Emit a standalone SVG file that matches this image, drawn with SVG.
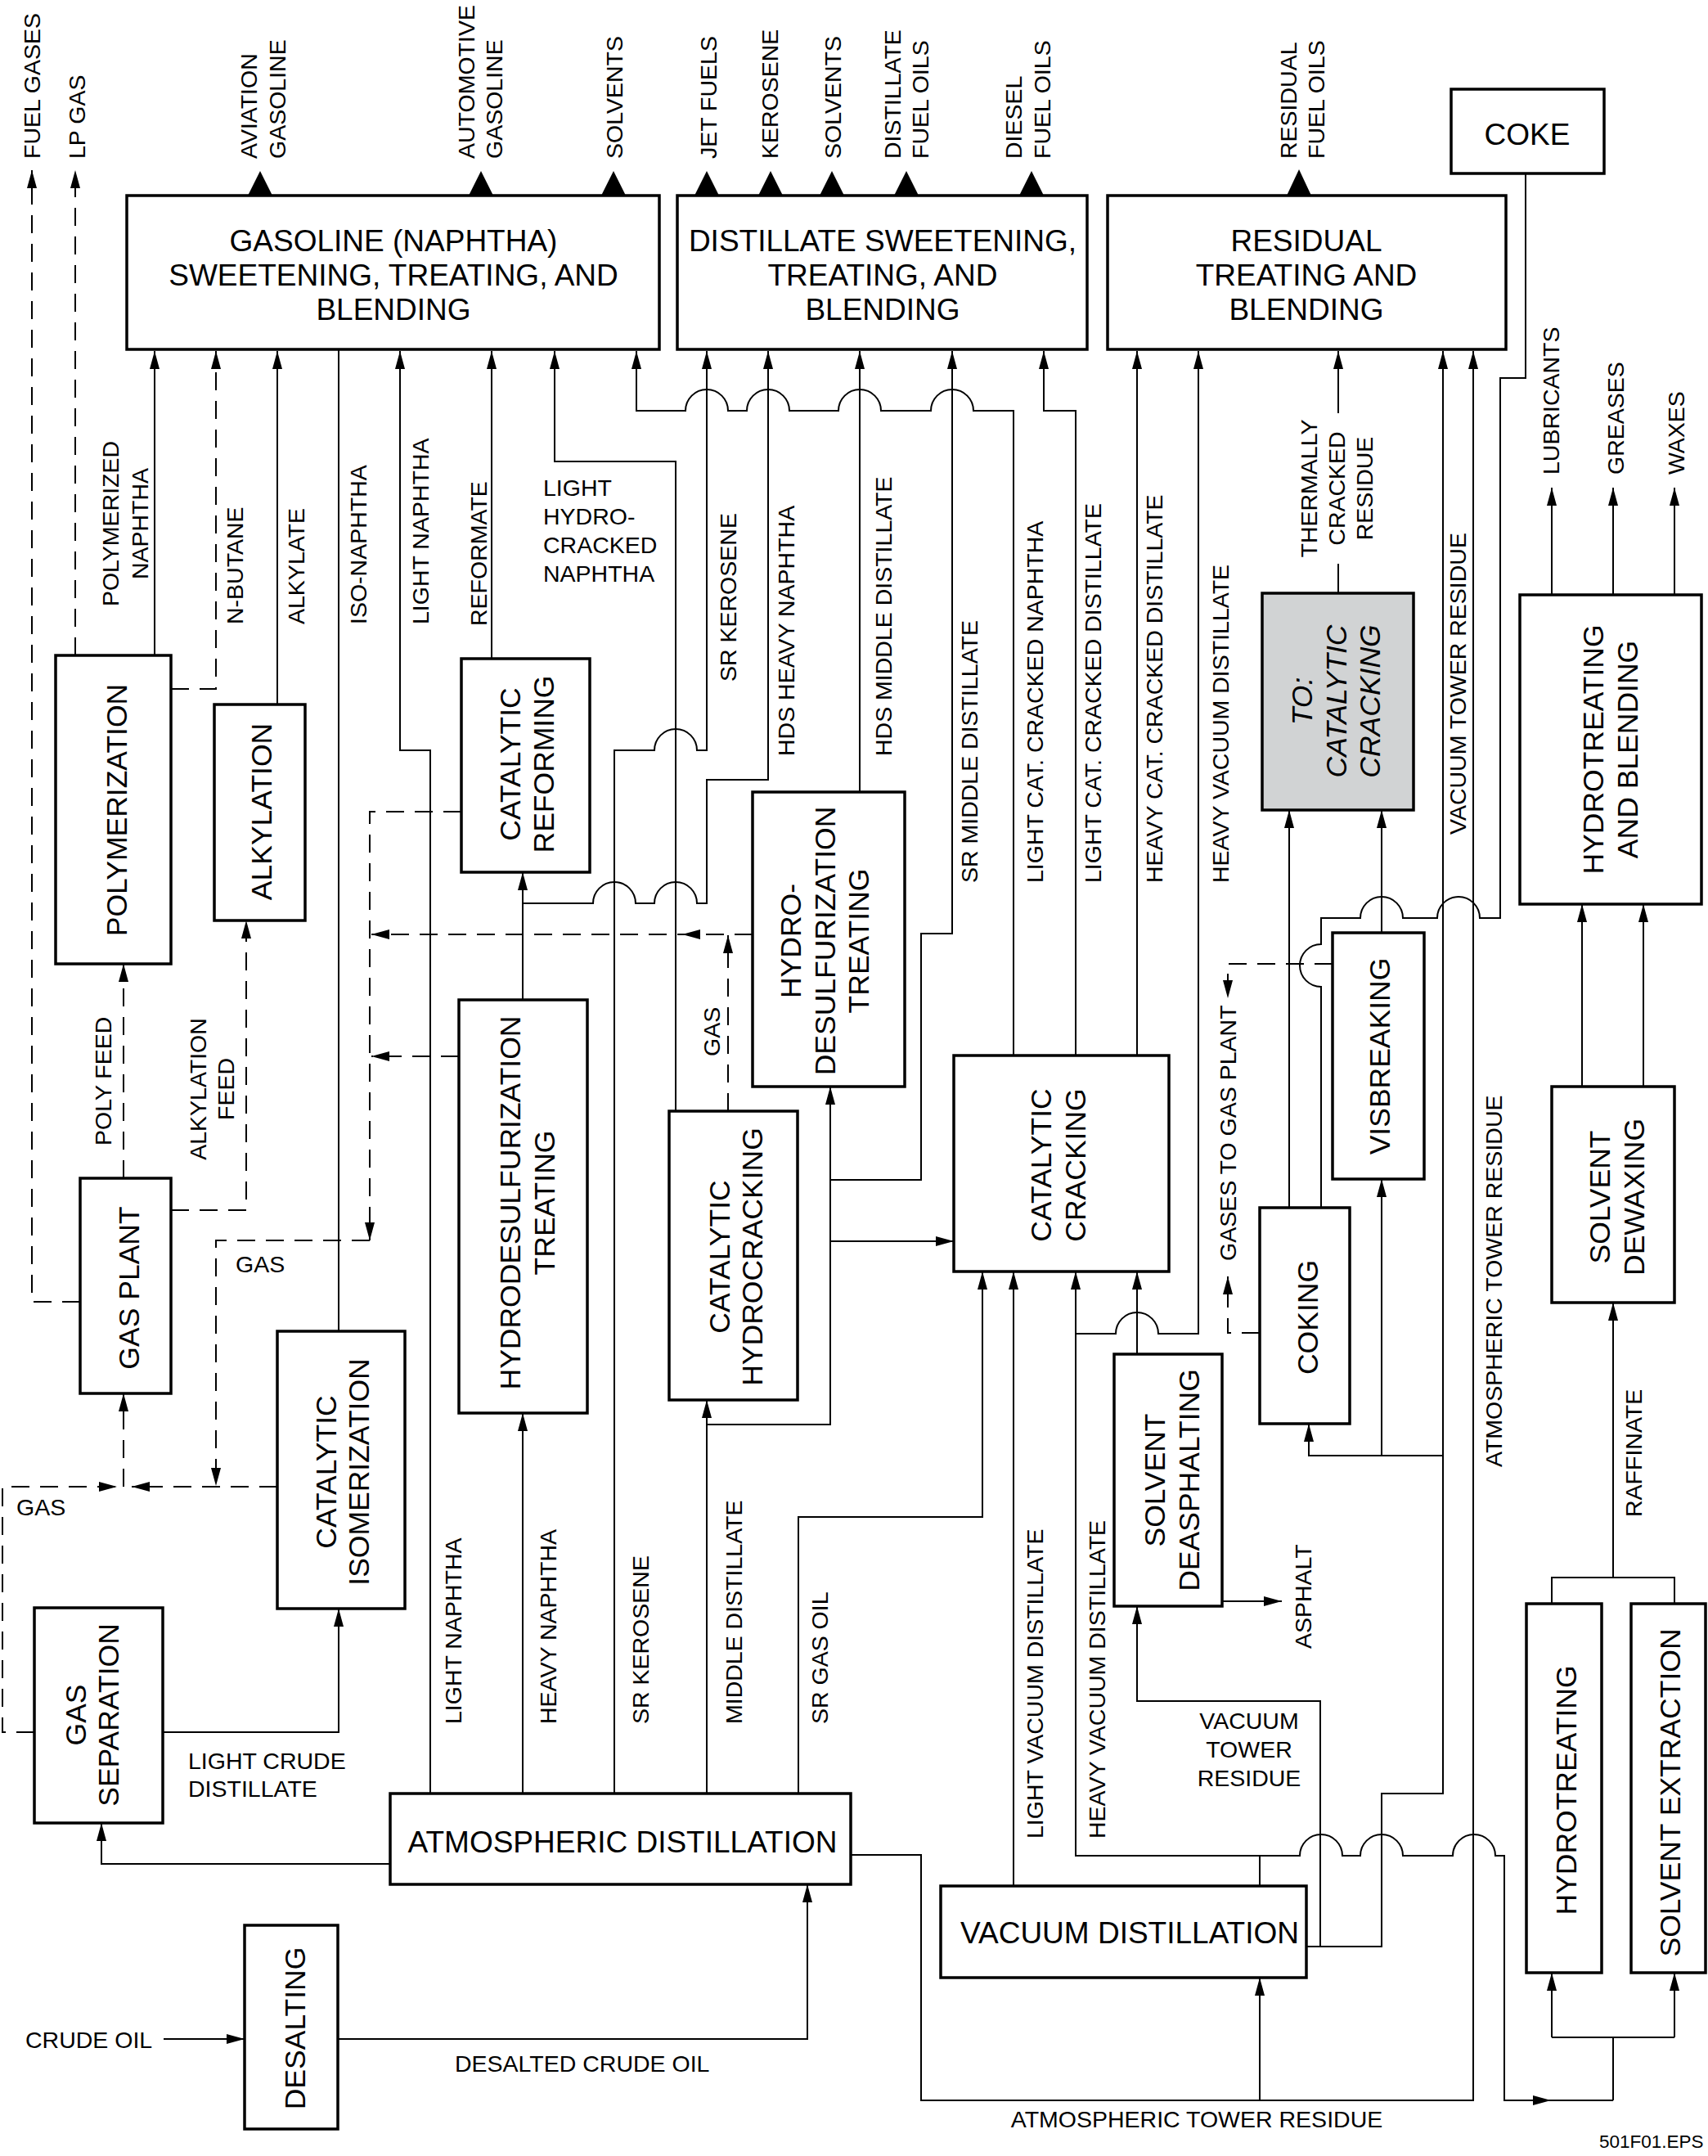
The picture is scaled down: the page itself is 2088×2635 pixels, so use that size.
<svg xmlns="http://www.w3.org/2000/svg" width="2088" height="2635" viewBox="0 0 2088 2635">
<style>
.b{fill:#fff;stroke:#000;stroke-width:3.5}
.g{fill:#d1d3d4;stroke:#000;stroke-width:3.5}
.l{fill:none;stroke:#000;stroke-width:2}
.d{fill:none;stroke:#000;stroke-width:2;stroke-dasharray:22 13}
.ah{fill:#000;stroke:none}
text{font-family:"Liberation Sans",Arial,Helvetica,sans-serif;fill:#000}
.t{font-size:28.5px}
.bt{font-size:35.5px}
.ht{font-size:37px}
.it{font-style:italic}
</style>
<defs>
<marker id="a" markerUnits="userSpaceOnUse" markerWidth="22" markerHeight="12" refX="22" refY="6" orient="auto"><path d="M0,0L22,6L0,12z" fill="#000"/></marker>
</defs>
<rect width="2088" height="2635" fill="#fff"/>
<g id="connectors">
<!-- big product arrows -->
<polygon class="ah" points="303,239 333,239 318,209"/>
<polygon class="ah" points="573,239 603,239 588,209"/>
<polygon class="ah" points="735,239 765,239 750,209"/>
<polygon class="ah" points="849,239 879,239 864,209"/>
<polygon class="ah" points="927,239 957,239 942,209"/>
<polygon class="ah" points="1002,239 1032,239 1017,209"/>
<polygon class="ah" points="1093,239 1123,239 1108,209"/>
<polygon class="ah" points="1246,239 1276,239 1261,209"/>
<polygon class="ah" points="1573,239 1603,239 1588,207"/>
<!-- gasoline feeds -->
<path class="l" d="M189,801V429" marker-end="url(#a)"/>
<path class="l" d="M339,861V429" marker-end="url(#a)"/>
<path class="l" d="M414,1627V427"/>
<path class="l" d="M526,2192V917H489V429" marker-end="url(#a)"/>
<path class="l" d="M601,805V429" marker-end="url(#a)"/>
<path class="l" d="M826,1358V564H678V429" marker-end="url(#a)"/>
<path class="l" d="M1239,1290V502H1190A26,26 0 0 0 1138,502H1077A26,26 0 0 0 1025,502H965A26,26 0 0 0 913,502H890A26,26 0 0 0 838,502H778V429" marker-end="url(#a)"/>
<path class="l" d="M1315,1290V502H1276V429" marker-end="url(#a)"/>
<path class="l" d="M751,2192V917H800A26,26 0 0 1 852,917H864V429" marker-end="url(#a)"/>
<path class="l" d="M639,1104H725A26,26 0 0 1 777,1104H800A26,26 0 0 1 852,1104H864V953H939V429" marker-end="url(#a)"/>
<path class="l" d="M639,2192V1727" marker-end="url(#a)"/>
<path class="l" d="M639,1222V1066" marker-end="url(#a)"/>
<path class="l" d="M1051,968V429" marker-end="url(#a)"/>
<path class="l" d="M1015,1442H1126V1141H1164V429" marker-end="url(#a)"/>
<path class="l" d="M864,2192V1711" marker-end="url(#a)"/>
<path class="l" d="M864,1741H1015V1328" marker-end="url(#a)"/>
<path class="l" d="M1015,1517H1166" marker-end="url(#a)"/>
<path class="l" d="M976,2192V1854H1201V1554" marker-end="url(#a)"/>
<path class="l" d="M1239,2305V1554" marker-end="url(#a)"/>
<path class="l" d="M1540,2305V2268H1315V1554" marker-end="url(#a)"/>
<path class="l" d="M1315,1630H1364A26,26 0 0 1 1416,1630H1465V429" marker-end="url(#a)"/>
<path class="l" d="M1540,2268H1589A26,26 0 0 1 1641,2268H1663A26,26 0 0 1 1715,2268H1776A26,26 0 0 1 1828,2268H1839V2567H1972"/>
<polygon class="ah" points="1874,2561 1896,2567 1874,2573"/>
<path class="l" d="M1390,1655V1554" marker-end="url(#a)"/>
<path class="l" d="M1390,1290V429" marker-end="url(#a)"/>
<path class="l" d="M1636,725V689"/>
<path class="l" d="M1636,505V429" marker-end="url(#a)"/>
<path class="l" d="M1597,2379H1689V2192H1764V429" marker-end="url(#a)"/>
<path class="l" d="M1614,2379V2079H1390V1963" marker-end="url(#a)"/>
<path class="l" d="M1764,1779H1600V1740" marker-end="url(#a)"/>
<path class="l" d="M1689,1779V1441" marker-end="url(#a)"/>
<path class="l" d="M1040,2267H1126V2567H1801V429" marker-end="url(#a)"/>
<path class="l" d="M1540,2567V2417" marker-end="url(#a)"/>
<path class="l" d="M1576,1476V990" marker-end="url(#a)"/>
<path class="l" d="M1689,1140V990" marker-end="url(#a)"/>
<path class="l" d="M1615,1476V1206A26,26 0 0 1 1615,1154V1122H1663A26,26 0 0 1 1715,1122H1757A26,26 0 0 1 1809,1122H1834V462H1865V212"/>
<path class="l" d="M1494,1957H1567" marker-end="url(#a)"/>
<path class="l" d="M1972,1928V1592" marker-end="url(#a)"/>
<path class="l" d="M1897,1960V1928H2047V1960"/>
<path class="l" d="M1934,1328V1105" marker-end="url(#a)"/>
<path class="l" d="M2009,1328V1105" marker-end="url(#a)"/>
<path class="l" d="M1897,727V596" marker-end="url(#a)"/>
<path class="l" d="M1972,727V596" marker-end="url(#a)"/>
<path class="l" d="M2047,727V596" marker-end="url(#a)"/>
<path class="l" d="M1972,2567V2490"/>
<path class="l" d="M1897,2490H2047"/>
<path class="l" d="M1897,2490V2411" marker-end="url(#a)"/>
<path class="l" d="M2047,2490V2411" marker-end="url(#a)"/>
<path class="l" d="M477,2278H124V2228" marker-end="url(#a)"/>
<path class="l" d="M199,2117H414V1966" marker-end="url(#a)"/>
<path class="l" d="M200,2492H299" marker-end="url(#a)"/>
<path class="l" d="M413,2492H987V2303" marker-end="url(#a)"/>
<!-- dashed gas lines -->
<path class="d" d="M98,1591H39V208" marker-end="url(#a)"/>
<path class="d" d="M92,801V208" marker-end="url(#a)"/>
<path class="d" d="M209,842H264V429" marker-end="url(#a)"/>
<path class="d" d="M151,1440V1178" marker-end="url(#a)"/>
<path class="d" d="M209,1479H301V1125" marker-end="url(#a)"/>
<path class="d" d="M564,992H452V1516" marker-end="url(#a)"/>
<path class="d" d="M452,1516H264V1816" marker-end="url(#a)"/>
<path class="d" d="M920,1142H454" marker-end="url(#a)"/>
<polygon class="ah" points="834,1142 856,1136 856,1148"/>
<path class="d" d="M561,1291H454" marker-end="url(#a)"/>
<path class="d" d="M890,1358V1143" marker-end="url(#a)"/>
<path class="d" d="M151,1817V1703" marker-end="url(#a)"/>
<path class="d" d="M42,2117H3V1817H143" marker-end="url(#a)"/>
<path class="d" d="M339,1817H161" marker-end="url(#a)"/>
<path class="d" d="M1629,1178H1501V1220" marker-end="url(#a)"/>
<path class="d" d="M1540,1629H1501V1560" marker-end="url(#a)"/>
<!-- product labels (top) -->
<g class="t">
<text transform="translate(49,194) rotate(-90)">FUEL GASES</text>
<text transform="translate(104,194) rotate(-90)">LP GAS</text>
<text transform="translate(314,194) rotate(-90)">AVIATION</text>
<text transform="translate(349,194) rotate(-90)">GASOLINE</text>
<text transform="translate(580,194) rotate(-90)">AUTOMOTIVE</text>
<text transform="translate(614,194) rotate(-90)">GASOLINE</text>
<text transform="translate(761,194) rotate(-90)">SOLVENTS</text>
<text transform="translate(876,194) rotate(-90)">JET FUELS</text>
<text transform="translate(951,194) rotate(-90)">KEROSENE</text>
<text transform="translate(1028,194) rotate(-90)">SOLVENTS</text>
<text transform="translate(1101,194) rotate(-90)">DISTILLATE</text>
<text transform="translate(1135,194) rotate(-90)">FUEL OILS</text>
<text transform="translate(1249,194) rotate(-90)">DIESEL</text>
<text transform="translate(1284,194) rotate(-90)">FUEL OILS</text>
<text transform="translate(1585,194) rotate(-90)">RESIDUAL</text>
<text transform="translate(1619,194) rotate(-90)">FUEL OILS</text>
<!-- stream labels -->
<text transform="translate(145,640) rotate(-90)" text-anchor="middle">POLYMERIZED</text>
<text transform="translate(181,640) rotate(-90)" text-anchor="middle">NAPHTHA</text>
<text transform="translate(297,763) rotate(-90)">N-BUTANE</text>
<text transform="translate(372,763) rotate(-90)">ALKYLATE</text>
<text transform="translate(448,763) rotate(-90)">ISO-NAPHTHA</text>
<text transform="translate(524,763) rotate(-90)">LIGHT NAPHTHA</text>
<text transform="translate(595,765) rotate(-90)">REFORMATE</text>
<text x="664" y="606">LIGHT</text>
<text x="664" y="641">HYDRO-</text>
<text x="664" y="676">CRACKED</text>
<text x="664" y="711">NAPHTHA</text>
<text transform="translate(900,833) rotate(-90)">SR KEROSENE</text>
<text transform="translate(971,924) rotate(-90)">HDS HEAVY NAPHTHA</text>
<text transform="translate(1090,924) rotate(-90)">HDS MIDDLE DISTILLATE</text>
<text transform="translate(1195,1079) rotate(-90)">SR MIDDLE DISTILLATE</text>
<text transform="translate(1275,1079) rotate(-90)">LIGHT CAT. CRACKED NAPHTHA</text>
<text transform="translate(1346,1079) rotate(-90)">LIGHT CAT. CRACKED DISTILLATE</text>
<text transform="translate(1421,1079) rotate(-90)">HEAVY CAT. CRACKED DISTILLATE</text>
<text transform="translate(1502,1079) rotate(-90)">HEAVY VACUUM DISTILLATE</text>
<text transform="translate(1610,597) rotate(-90)" text-anchor="middle">THERMALLY</text>
<text transform="translate(1644,597) rotate(-90)" text-anchor="middle">CRACKED</text>
<text transform="translate(1678,597) rotate(-90)" text-anchor="middle">RESIDUE</text>
<text transform="translate(1792,1020) rotate(-90)">VACUUM TOWER RESIDUE</text>
<text transform="translate(1906,580) rotate(-90)">LUBRICANTS</text>
<text transform="translate(1985,580) rotate(-90)">GREASES</text>
<text transform="translate(2059,580) rotate(-90)">WAXES</text>
<text transform="translate(880,1291) rotate(-90)">GAS</text>
<text transform="translate(136,1400) rotate(-90)">POLY FEED</text>
<text transform="translate(252,1331) rotate(-90)" text-anchor="middle">ALKYLATION</text>
<text transform="translate(286,1331) rotate(-90)" text-anchor="middle">FEED</text>
<text x="288" y="1555">GAS</text>
<text x="20" y="1852">GAS</text>
<text transform="translate(1511,1541) rotate(-90)">GASES TO GAS PLANT</text>
<text transform="translate(1836,1793) rotate(-90)">ATMOSPHERIC TOWER RESIDUE</text>
<text transform="translate(2007,1854) rotate(-90)">RAFFINATE</text>
<text transform="translate(1603,2015) rotate(-90)">ASPHALT</text>
<text transform="translate(564,2107) rotate(-90)">LIGHT NAPHTHA</text>
<text transform="translate(680,2107) rotate(-90)">HEAVY NAPHTHA</text>
<text transform="translate(793,2107) rotate(-90)">SR KEROSENE</text>
<text transform="translate(907,2107) rotate(-90)">MIDDLE DISTILLATE</text>
<text transform="translate(1012,2107) rotate(-90)">SR GAS OIL</text>
<text transform="translate(1275,2247) rotate(-90)">LIGHT VACUUM DISTILLATE</text>
<text transform="translate(1351,2247) rotate(-90)">HEAVY VACUUM DISTILLATE</text>
<text x="230" y="2162">LIGHT CRUDE</text>
<text x="230" y="2196">DISTILLATE</text>
<text x="31" y="2503">CRUDE OIL</text>
<text x="556" y="2532">DESALTED CRUDE OIL</text>
<text x="1463" y="2600" text-anchor="middle">ATMOSPHERIC TOWER RESIDUE</text>
<text x="1527" y="2113" text-anchor="middle">VACUUM</text>
<text x="1527" y="2148" text-anchor="middle">TOWER</text>
<text x="1527" y="2183" text-anchor="middle">RESIDUE</text>
</g>
</g>
<g id="gasoline-blending"><rect class="b" x="155" y="239" width="651" height="188"/>
<text class="ht" x="481" y="307" text-anchor="middle">GASOLINE (NAPHTHA)</text>
<text class="ht" x="481" y="349" text-anchor="middle">SWEETENING, TREATING, AND</text>
<text class="ht" x="481" y="391" text-anchor="middle">BLENDING</text></g>
<g id="distillate-blending"><rect class="b" x="828" y="239" width="501" height="188"/>
<text class="ht" x="1079" y="307" text-anchor="middle">DISTILLATE SWEETENING,</text>
<text class="ht" x="1079" y="349" text-anchor="middle">TREATING, AND</text>
<text class="ht" x="1079" y="391" text-anchor="middle">BLENDING</text></g>
<g id="residual-blending"><rect class="b" x="1354" y="239" width="487" height="188"/>
<text class="ht" x="1597" y="307" text-anchor="middle">RESIDUAL</text>
<text class="ht" x="1597" y="349" text-anchor="middle">TREATING AND</text>
<text class="ht" x="1597" y="391" text-anchor="middle">BLENDING</text></g>
<g id="coke"><rect class="b" x="1774" y="109" width="187" height="103"/>
<text class="ht" x="1867" y="177" text-anchor="middle">COKE</text></g>
<g id="polymerization"><rect class="b" x="68" y="801" width="141" height="377"/>
<text class="bt" transform="translate(155,990) rotate(-90)" text-anchor="middle">POLYMERIZATION</text></g>
<g id="alkylation"><rect class="b" x="262" y="861" width="111" height="264"/>
<text class="bt" transform="translate(332,992) rotate(-90)" text-anchor="middle">ALKYLATION</text></g>
<g id="catalytic-reforming"><rect class="b" x="564" y="805" width="157" height="261"/>
<text class="bt" transform="translate(636,934) rotate(-90)" text-anchor="middle">CATALYTIC</text>
<text class="bt" transform="translate(677,934) rotate(-90)" text-anchor="middle">REFORMING</text></g>
<g id="hds-upper"><rect class="b" x="920" y="968" width="186" height="360"/>
<text class="bt" transform="translate(979,1150) rotate(-90)" text-anchor="middle">HYDRO-</text>
<text class="bt" transform="translate(1021,1150) rotate(-90)" text-anchor="middle">DESULFURIZATION</text>
<text class="bt" transform="translate(1062,1150) rotate(-90)" text-anchor="middle">TREATING</text></g>
<g id="to-catalytic-cracking"><rect class="g" x="1543" y="725" width="185" height="265"/>
<text class="bt it" transform="translate(1604,857) rotate(-90)" text-anchor="middle">TO:</text>
<text class="bt it" transform="translate(1646,857) rotate(-90)" text-anchor="middle">CATALYTIC</text>
<text class="bt it" transform="translate(1687,857) rotate(-90)" text-anchor="middle">CRACKING</text></g>
<g id="hydrotreating-blending"><rect class="b" x="1858" y="727" width="222" height="378"/>
<text class="bt" transform="translate(1960,916) rotate(-90)" text-anchor="middle">HYDROTREATING</text>
<text class="bt" transform="translate(2002,916) rotate(-90)" text-anchor="middle">AND BLENDING</text></g>
<g id="hds-lower"><rect class="b" x="561" y="1222" width="157" height="505"/>
<text class="bt" transform="translate(636,1470) rotate(-90)" text-anchor="middle">HYDRODESULFURIZATION</text>
<text class="bt" transform="translate(678,1470) rotate(-90)" text-anchor="middle">TREATING</text></g>
<g id="catalytic-hydrocracking"><rect class="b" x="818" y="1358" width="157" height="353"/>
<text class="bt" transform="translate(892,1536) rotate(-90)" text-anchor="middle">CATALYTIC</text>
<text class="bt" transform="translate(932,1536) rotate(-90)" text-anchor="middle">HYDROCRACKING</text></g>
<g id="catalytic-cracking"><rect class="b" x="1166" y="1290" width="263" height="264"/>
<text class="bt" transform="translate(1285,1424) rotate(-90)" text-anchor="middle">CATALYTIC</text>
<text class="bt" transform="translate(1327,1424) rotate(-90)" text-anchor="middle">CRACKING</text></g>
<g id="visbreaking"><rect class="b" x="1629" y="1140" width="112" height="301"/>
<text class="bt" transform="translate(1699,1291) rotate(-90)" text-anchor="middle">VISBREAKING</text></g>
<g id="solvent-dewaxing"><rect class="b" x="1897" y="1328" width="150" height="264"/>
<text class="bt" transform="translate(1968,1463) rotate(-90)" text-anchor="middle">SOLVENT</text>
<text class="bt" transform="translate(2010,1463) rotate(-90)" text-anchor="middle">DEWAXING</text></g>
<g id="gas-plant"><rect class="b" x="98" y="1440" width="111" height="263"/>
<text class="bt" transform="translate(170,1574) rotate(-90)" text-anchor="middle">GAS PLANT</text></g>
<g id="coking"><rect class="b" x="1540" y="1476" width="110" height="264"/>
<text class="bt" transform="translate(1611,1610) rotate(-90)" text-anchor="middle">COKING</text></g>
<g id="solvent-deasphalting"><rect class="b" x="1362" y="1655" width="132" height="308"/>
<text class="bt" transform="translate(1424,1809) rotate(-90)" text-anchor="middle">SOLVENT</text>
<text class="bt" transform="translate(1466,1809) rotate(-90)" text-anchor="middle">DEASPHALTING</text></g>
<g id="catalytic-isomerization"><rect class="b" x="339" y="1627" width="156" height="339"/>
<text class="bt" transform="translate(411,1799) rotate(-90)" text-anchor="middle">CATALYTIC</text>
<text class="bt" transform="translate(451,1799) rotate(-90)" text-anchor="middle">ISOMERIZATION</text></g>
<g id="gas-separation"><rect class="b" x="42" y="1965" width="157" height="263"/>
<text class="bt" transform="translate(105,2096) rotate(-90)" text-anchor="middle">GAS</text>
<text class="bt" transform="translate(145,2096) rotate(-90)" text-anchor="middle">SEPARATION</text></g>
<g id="atmospheric-distillation"><rect class="b" x="477" y="2192" width="563" height="111"/>
<text class="ht" x="761" y="2264" text-anchor="middle">ATMOSPHERIC DISTILLATION</text></g>
<g id="vacuum-distillation"><rect class="b" x="1150" y="2305" width="447" height="112"/>
<text class="ht" x="1381" y="2375" text-anchor="middle">VACUUM DISTILLATION</text></g>
<g id="desalting"><rect class="b" x="299" y="2353" width="114" height="249"/>
<text class="bt" transform="translate(373,2479) rotate(-90)" text-anchor="middle">DESALTING</text></g>
<g id="hydrotreating"><rect class="b" x="1866" y="1960" width="92" height="451"/>
<text class="bt" transform="translate(1927,2188) rotate(-90)" text-anchor="middle">HYDROTREATING</text></g>
<g id="solvent-extraction"><rect class="b" x="1994" y="1960" width="91" height="451"/>
<text class="bt" transform="translate(2054,2191) rotate(-90)" text-anchor="middle">SOLVENT EXTRACTION</text></g>
<text x="1955" y="2625" style="font-size:22.5px">501F01.EPS</text>
</svg>
